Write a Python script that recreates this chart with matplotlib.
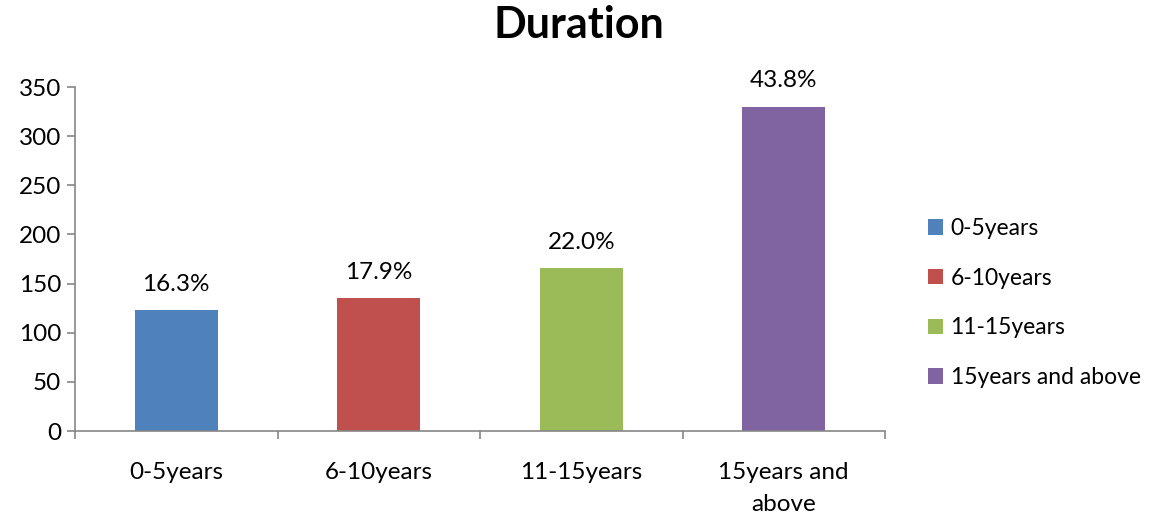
import numpy as np
import matplotlib.pyplot as plt
from matplotlib.patches import Patch

plt.rcParams['font.family'] = ['Lato', 'DejaVu Sans']

categories = ['0-5years', '6-10years', '11-15years', '15years and above']
tick_labels = ['0-5years', '6-10years', '11-15years', '15years and\nabove']
counts = [123, 135, 166, 330]
colors = ['#4F81BD', '#C0504D', '#9BBB59', '#8064A2']

total = sum(counts)
shares = [c / total * 100 for c in counts]

fig = plt.figure(figsize=(11.65, 5.2), dpi=100)
ax = fig.add_axes([75 / 1165, 1 - 431 / 520, 810 / 1165, 344 / 520])

x = np.arange(len(categories))
ax.bar(x, counts, width=0.41, color=colors)

for xi, c, s in zip(x, counts, shares):
    ax.annotate(f'{s:.1f}%', (xi, c), xytext=(0, 11), textcoords='offset points',
                ha='center', va='bottom', fontsize=17.5)

ax.set_xlim(-0.5, 3.5)
ax.set_ylim(0, 350)
ax.set_yticks(np.arange(0, 351, 50))
ax.set_xticks(x)
ax.set_xticklabels(tick_labels, fontsize=17.5, linespacing=1.65)
ax.set_xticks(np.arange(-0.5, 4, 1), minor=True)
ax.tick_params(axis='x', which='major', length=0, pad=22)
ax.tick_params(axis='x', which='minor', length=6, width=1.2, color='#868686', direction='out')
ax.tick_params(axis='y', length=6, width=1.2, color='#868686', labelsize=17.5, pad=4)

for side in ['top', 'right']:
    ax.spines[side].set_visible(False)
for side in ['left', 'bottom']:
    ax.spines[side].set_color('#868686')
    ax.spines[side].set_linewidth(1.2)

fig.suptitle('Duration', fontsize=31, fontweight='bold', x=0.497, y=0.99)

handles = [Patch(facecolor=c, edgecolor='none') for c in colors]
fig.legend(handles, categories, loc='center left', bbox_to_anchor=(907 / 1165, 1 - 303 / 520),
           frameon=False, fontsize=16.5, handlelength=0.65, handleheight=0.65,
           handletextpad=0.35, labelspacing=1.25)

fig.savefig('out.png', dpi=100)
